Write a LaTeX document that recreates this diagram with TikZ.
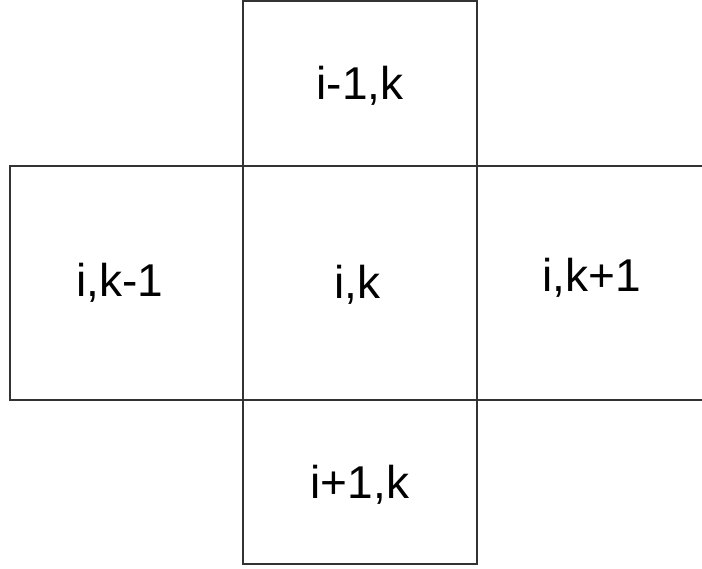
\documentclass[tikz,border=0pt]{standalone}
\usepackage{fontspec}
\setmainfont{Liberation Sans}
\begin{document}
\begin{tikzpicture}[x=1pt, y=-1pt, font=\fontsize{46}{50}\selectfont]
	\tikzset{
		cellbox/.style={draw=black!80, line width=1.1pt, inner sep=0pt, outer sep=0pt},
		celltext/.style={anchor=base, inner sep=0pt}
	}
	% Khung ảnh
	\useasboundingbox (0,0) rectangle (702,569);
	
	% Các ô lưới
	\node[cellbox, minimum width=234pt, minimum height=165pt] (top) at (360,83.5) {};
	\node[cellbox, minimum width=233pt, minimum height=234pt] (left) at (126.5,283) {};
	\node[cellbox, minimum width=234pt, minimum height=234pt] (mid) at (360,283) {};
	\node[cellbox, minimum width=234pt, minimum height=164pt] (bot) at (360,482) {};
	
	% Ô bên phải (bị cắt)
	\coordinate (RT) at (702,166);
	\coordinate (RB) at (702,400);
	\draw[black!80, line width=1.1pt] (mid.north east) -- (RT);
	\draw[black!80, line width=1.1pt] (mid.south east) -- (RB);
	
	% Nhãn
	\node[celltext] (ltop) at (360,100) {i-1,k};
	\node[celltext] (lleft) at (120,297) {i,k-1};
	\node[celltext] (lmid) at (357,299) {i,k};
	\node[celltext] (lright) at (592,292) {i,k+1};
	\node[celltext] (lbot) at (360,498) {i+1,k};
\end{tikzpicture}
\end{document}
